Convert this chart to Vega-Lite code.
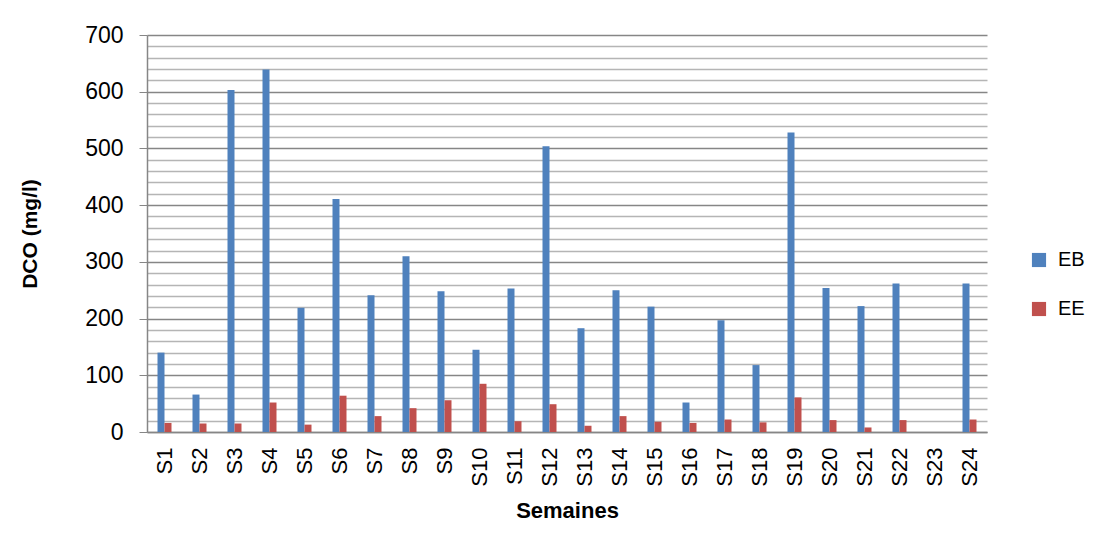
{
  "$schema": "https://vega.github.io/schema/vega-lite/v6.json",
  "width": 840,
  "height": 397,
  "autosize": {"type": "none"},
  "padding": {"left": 147, "top": 35, "right": 112, "bottom": 123},
  "background": "white",
  "config": {
    "view": {"stroke": null},
    "font": "Liberation Sans"
  },
  "data": {
    "values": [
      {"semaine": "S1", "serie": "EB", "dco": 140}, {"semaine": "S1", "serie": "EE", "dco": 16},
      {"semaine": "S2", "serie": "EB", "dco": 66}, {"semaine": "S2", "serie": "EE", "dco": 15},
      {"semaine": "S3", "serie": "EB", "dco": 603}, {"semaine": "S3", "serie": "EE", "dco": 15},
      {"semaine": "S4", "serie": "EB", "dco": 639}, {"semaine": "S4", "serie": "EE", "dco": 52},
      {"semaine": "S5", "serie": "EB", "dco": 219}, {"semaine": "S5", "serie": "EE", "dco": 13},
      {"semaine": "S6", "serie": "EB", "dco": 411}, {"semaine": "S6", "serie": "EE", "dco": 64},
      {"semaine": "S7", "serie": "EB", "dco": 241}, {"semaine": "S7", "serie": "EE", "dco": 28},
      {"semaine": "S8", "serie": "EB", "dco": 310}, {"semaine": "S8", "serie": "EE", "dco": 42},
      {"semaine": "S9", "serie": "EB", "dco": 248}, {"semaine": "S9", "serie": "EE", "dco": 56},
      {"semaine": "S10", "serie": "EB", "dco": 145}, {"semaine": "S10", "serie": "EE", "dco": 85},
      {"semaine": "S11", "serie": "EB", "dco": 253}, {"semaine": "S11", "serie": "EE", "dco": 19},
      {"semaine": "S12", "serie": "EB", "dco": 504}, {"semaine": "S12", "serie": "EE", "dco": 49},
      {"semaine": "S13", "serie": "EB", "dco": 183}, {"semaine": "S13", "serie": "EE", "dco": 11},
      {"semaine": "S14", "serie": "EB", "dco": 250}, {"semaine": "S14", "serie": "EE", "dco": 28},
      {"semaine": "S15", "serie": "EB", "dco": 221}, {"semaine": "S15", "serie": "EE", "dco": 18},
      {"semaine": "S16", "serie": "EB", "dco": 52}, {"semaine": "S16", "serie": "EE", "dco": 16},
      {"semaine": "S17", "serie": "EB", "dco": 197}, {"semaine": "S17", "serie": "EE", "dco": 22},
      {"semaine": "S18", "serie": "EB", "dco": 118}, {"semaine": "S18", "serie": "EE", "dco": 17},
      {"semaine": "S19", "serie": "EB", "dco": 528}, {"semaine": "S19", "serie": "EE", "dco": 61},
      {"semaine": "S20", "serie": "EB", "dco": 254}, {"semaine": "S20", "serie": "EE", "dco": 21},
      {"semaine": "S21", "serie": "EB", "dco": 222}, {"semaine": "S21", "serie": "EE", "dco": 8},
      {"semaine": "S22", "serie": "EB", "dco": 262}, {"semaine": "S22", "serie": "EE", "dco": 21},
      {"semaine": "S23", "serie": "EB", "dco": null}, {"semaine": "S23", "serie": "EE", "dco": null},
      {"semaine": "S24", "serie": "EB", "dco": 262}, {"semaine": "S24", "serie": "EE", "dco": 22}
    ]
  },
  "mark": {"type": "bar"},
  "encoding": {
    "x": {
      "field": "semaine",
      "type": "nominal",
      "scale": {
        "domain": ["S1","S2","S3","S4","S5","S6","S7","S8","S9","S10","S11","S12","S13","S14","S15","S16","S17","S18","S19","S20","S21","S22","S23","S24"],
        "paddingInner": 0.6,
        "paddingOuter": 0.3
      },
      "axis": {
        "title": "Semaines",
        "titleFont": "Liberation Sans",
        "titleFontSize": 22,
        "titleFontWeight": "bold",
        "titleColor": "black",
        "titlePadding": 14,
        "labelAngle": -90,
        "labelFontSize": 22,
        "labelColor": "black",
        "labelPadding": 15,
        "labelAlign": "right",
        "labelBaseline": "middle",
        "ticks": false,
        "domainColor": "#868686",
        "domainWidth": 1.5,
        "grid": false
      }
    },
    "xOffset": {"field": "serie", "type": "nominal", "sort": ["EB", "EE"]},
    "y": {
      "field": "dco",
      "type": "quantitative",
      "scale": {"domain": [0, 700], "nice": false, "zero": true},
      "axis": {
        "title": "DCO (mg/l)",
        "titleFont": "Liberation Sans",
        "titleFontSize": 21,
        "titleFontWeight": "bold",
        "titleColor": "black",
        "titlePadding": 44,
        "values": [0,20,40,60,80,100,120,140,160,180,200,220,240,260,280,300,320,340,360,380,400,420,440,460,480,500,520,540,560,580,600,620,640,660,680,700],
        "labelExpr": "datum.value % 100 === 0 ? datum.label : ''",
        "labelFontSize": 23,
        "labelColor": "black",
        "labelPadding": 16,
        "tickSize": 8,
        "tickColor": "#868686",
        "tickOpacity": {"condition": {"test": "datum.value % 100 === 0", "value": 1}, "value": 0},
        "domainColor": "#868686",
        "domainWidth": 1.5,
        "grid": true,
        "gridColor": {"condition": {"test": "datum.value % 100 === 0", "value": "#868686"}, "value": "#b5b5b5"},
        "gridWidth": 1.5
      }
    },
    "color": {
      "field": "serie",
      "type": "nominal",
      "scale": {"domain": ["EB", "EE"], "range": ["#4F81BD", "#C0504D"]},
      "legend": {
        "title": null,
        "orient": "none",
        "legendX": 882,
        "legendY": 215,
        "padding": 0,
        "symbolType": "square",
        "symbolSize": 200,
        "symbolStrokeWidth": 0,
        "labelFontSize": 20,
        "labelColor": "black",
        "labelOffset": 9,
        "rowPadding": 29
      }
    }
  }
}
